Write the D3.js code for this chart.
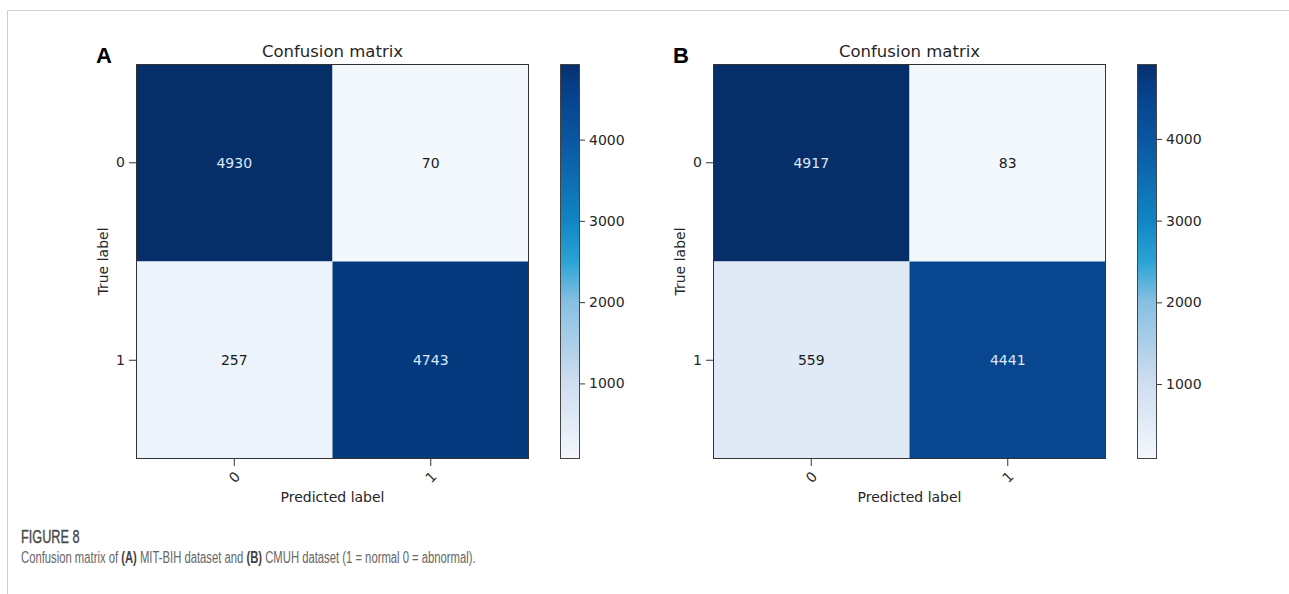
<!DOCTYPE html>
<html>
<head>
<meta charset="utf-8">
<script src="https://cdn.jsdelivr.net/npm/d3@7"></script>
<style>
  body { margin: 0; background: #fff; }
  svg { display: block; }
  text { font-family: "DejaVu Sans", sans-serif; fill: #262626; }
</style>
</head>
<body>
<svg width="1289" height="594"></svg>
<script>
// data
var labels = ['0', '1']
var matrixA = [[4930, 70], [257, 4743]]
var matrixB = [[4917, 83], [559, 4441]]
var cbTicks = [1000, 2000, 3000, 4000]
var panelTitles = ['Confusion matrix', 'Confusion matrix']
var panelLetters = ['A', 'B']

// colour ramp sampled off the colour bars (0 = min, 1 = max)
var rampStops = [0, 0.2, 0.4, 0.5, 0.6, 0.8, 0.95, 1]
var rampColors = ['#f3f8fd', '#cddcf0', '#85bfe1', '#2ba3d5', '#1286c4', '#0b58a3', '#063d85', '#062f6a']

const svg = d3.select('svg')
const fs = '14px'

// frame round the figure
svg.append('path')
  .attr('d', 'M7.5,594 V10.5 H1289')
  .attr('fill', 'none')
  .attr('stroke', '#cfcfcf')

var draw_panel = function(matrix, x0, idx) {
  const top = 64, size = 393, height = 395
  const flat = matrix.flat()
  const vmin = d3.min(flat), vmax = d3.max(flat)

  const x = d3.scaleBand().domain(labels).range([x0, x0 + size])
  const y = d3.scaleBand().domain(labels).range([top, top + height])
  const t = d3.scaleLinear().domain([vmin, vmax]).range([0, 1])
  const ramp = d3.scaleLinear().domain(rampStops).range(rampColors).interpolate(d3.interpolateRgb)
  const color = (v) => ramp(t(v))

  const g = svg.append('g')

  var cells = []
  matrix.forEach((row, i) => row.forEach((v, j) => cells.push({ r: labels[i], c: labels[j], v: v })))

  g.selectAll('rect.cell')
    .data(cells)
    .enter()
    .append('rect')
    .attr('class', 'cell')
    .attr('x', (d) => x(d.c))
    .attr('y', (d) => y(d.r))
    .attr('width', x.bandwidth())
    .attr('height', y.bandwidth())
    .attr('fill', (d) => color(d.v))

  g.selectAll('text.val')
    .data(cells)
    .enter()
    .append('text')
    .attr('class', 'val')
    .attr('x', (d) => x(d.c) + x.bandwidth() / 2)
    .attr('y', (d) => y(d.r) + y.bandwidth() / 2)
    .attr('dy', '0.35em')
    .attr('text-anchor', 'middle')
    .style('font-size', fs)
    .style('fill', (d) => d.v > vmax / 2 ? '#dbe8f6' : '#1a1a1a')
    .text((d) => d.v)

  g.append('rect')
    .attr('x', x0 + 0.5).attr('y', top + 0.5)
    .attr('width', size - 1).attr('height', height - 1)
    .attr('fill', 'none').attr('stroke', '#333')

  // axes
  const yAxis = g.append('g')
    .attr('transform', `translate(${x0}, 0)`)
    .call(d3.axisLeft(y).tickSize(7).tickPadding(4))
  const xAxis = g.append('g')
    .attr('transform', `translate(0, ${top + height})`)
    .call(d3.axisBottom(x).tickSize(7).tickPadding(4))
  ;[yAxis, xAxis].forEach((a) => {
    a.select('.domain').remove()
    a.selectAll('line').attr('stroke', '#333')
    a.selectAll('text').style('font-size', fs).style('font-family', '"DejaVu Sans", sans-serif').attr('fill', '#262626')
  })
  xAxis.selectAll('text')
    .attr('y', 0).attr('dy', 0)
    .attr('text-anchor', 'middle')
    .attr('transform', 'translate(0, 18) rotate(-45)')
    .attr('dominant-baseline', 'central')

  g.append('text')
    .attr('x', x0 + size / 2)
    .attr('y', top + height + 43)
    .attr('text-anchor', 'middle')
    .style('font-size', fs)
    .text('Predicted label')

  g.append('text')
    .attr('transform', `translate(${x0 - 28}, ${top + height / 2}) rotate(-90)`)
    .attr('text-anchor', 'middle')
    .style('font-size', fs)
    .text('True label')

  g.append('text')
    .attr('x', x0 + size / 2)
    .attr('y', top - 7)
    .attr('text-anchor', 'middle')
    .style('font-size', '16.5px')
    .text(panelTitles[idx])

  g.append('text')
    .attr('x', x0 - 40)
    .attr('y', top - 1)
    .style('font-family', '"Liberation Sans", Arial, sans-serif')
    .style('font-weight', 'bold')
    .style('font-size', '22px')
    .style('fill', '#000')
    .text(panelLetters[idx])

  // colour bar
  const cbx = x0 + 424, cbw = 20
  const cb = d3.scaleLinear().domain([vmin, vmax]).range([top + height, top])
  const gid = 'grad' + idx
  const grad = svg.append('defs').append('linearGradient')
    .attr('id', gid).attr('x1', 0).attr('y1', 1).attr('x2', 0).attr('y2', 0)
  grad.selectAll('stop')
    .data(rampStops)
    .enter()
    .append('stop')
    .attr('offset', (d) => d)
    .attr('stop-color', (d, i) => rampColors[i])

  g.append('rect')
    .attr('x', cbx + 0.5).attr('y', top + 0.5)
    .attr('width', cbw - 1).attr('height', height - 1)
    .attr('fill', `url(#${gid})`)
    .attr('stroke', '#444')

  const cAxis = g.append('g')
    .attr('transform', `translate(${cbx + cbw}, 0)`)
    .call(d3.axisRight(cb).tickValues(cbTicks).tickFormat(d3.format('d')).tickSize(5).tickPadding(4))
  cAxis.select('.domain').remove()
  cAxis.selectAll('line').attr('stroke', '#333')
  cAxis.selectAll('text').style('font-size', fs).style('font-family', '"DejaVu Sans", sans-serif').attr('fill', '#262626')
}

draw_panel(matrixA, 136, 0)
draw_panel(matrixB, 713, 1)

// caption, squeezed sideways to mimic the condensed journal face
const capG = svg.append('g')
  .attr('transform', 'translate(21, 0) scale(0.705, 1)')

capG.append('text')
  .attr('x', 0)
  .attr('y', 543)
  .style('font-family', '"Liberation Sans", sans-serif')
  .style('font-size', '18px')
  .style('fill', '#4a4a4a')
  .style('stroke', '#4a4a4a')
  .style('stroke-width', '0.4px')
  .text('FIGURE 8')

const cap = capG.append('text')
  .attr('x', 0)
  .attr('y', 563)
  .style('font-family', '"Liberation Sans", sans-serif')
  .style('font-size', '16px')
  .style('fill', '#666')
cap.append('tspan').text('Confusion matrix of ')
cap.append('tspan').style('font-weight', 'bold').style('fill', '#444').text('(A)')
cap.append('tspan').text(' MIT-BIH dataset and ')
cap.append('tspan').style('font-weight', 'bold').style('fill', '#444').text('(B)')
cap.append('tspan').text(' CMUH dataset (1 = normal 0 = abnormal).')
</script>
</body>
</html>
